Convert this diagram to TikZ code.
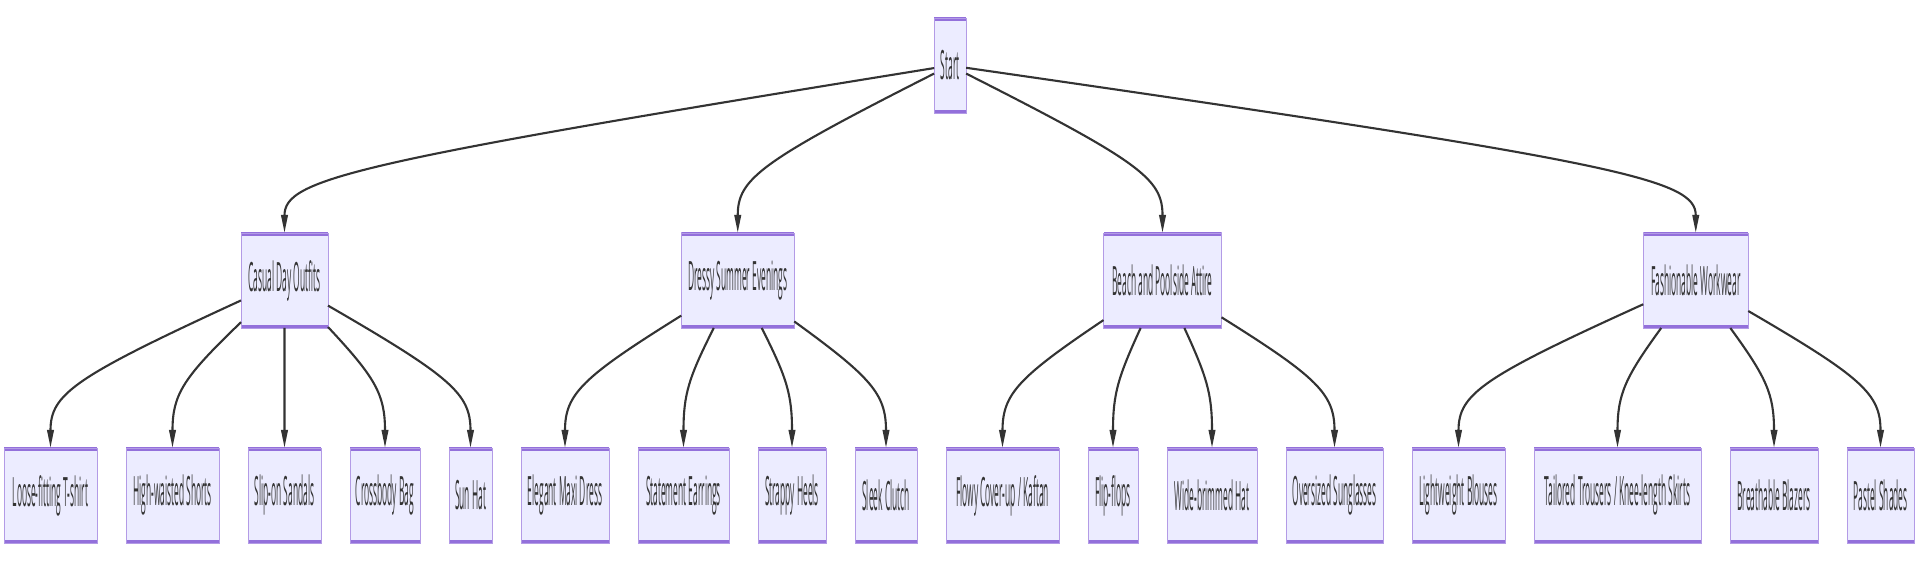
\documentclass[tikz,border=0pt]{standalone}
\usepackage{fontspec}
\newfontfamily\boxfont[FakeStretch=0.208]{Open Sans}
\usetikzlibrary{arrows.meta,positioning,calc}
\definecolor{boxfill}{HTML}{ECECFF}
\definecolor{boxline}{HTML}{9370DB}
\definecolor{linkgray}{HTML}{333333}

\begin{document}
\begin{tikzpicture}[
node distance=2.4cm and 0.58cm,
box/.style={rectangle,draw=boxline!70,line width=0.5pt,fill=boxfill,minimum height=1.9cm,inner sep=0pt,outer sep=0pt,
  text=linkgray,font=\boxfont\fontsize{23}{27}\selectfont,
  path picture={\draw[boxline,line width=3.4pt] (path picture bounding box.north west) -- (path picture bounding box.north east)
    (path picture bounding box.south west) -- (path picture bounding box.south east);}},
arr/.style={-{Triangle[length=0.36cm,width=0.13cm]},line width=1.2pt,draw=linkgray},
flow/.style={to path={.. controls ($(\tikztostart)!0.9!(\tikztotarget.north)+(0,1.08)$) and ($(\tikztotarget.north)+(0,1.08)$) .. (\tikztotarget.north)}}
]
\useasboundingbox (0,0) rectangle (38.4,11.24);

% bottom row
\node[box,minimum width=1.86cm,anchor=west] (loose) at (0.08,1.33) {Loose-fitting T-shirt};
\node[box,minimum width=1.86cm,right=of loose] (high) {High-waisted Shorts};
\node[box,minimum width=1.46cm,right=of high] (slip) {Slip-on Sandals};
\node[box,minimum width=1.40cm,right=of slip] (crossbody) {Crossbody Bag};
\node[box,minimum width=0.86cm,right=of crossbody] (sunhat) {Sun Hat};
\node[box,minimum width=1.76cm,right=of sunhat] (maxi) {Elegant Maxi Dress};
\node[box,minimum width=1.82cm,right=of maxi] (earrings) {Statement Earrings};
\node[box,minimum width=1.36cm,right=of earrings] (heels) {Strappy Heels};
\node[box,minimum width=1.24cm,right=of heels] (clutch) {Sleek Clutch};
\node[box,minimum width=2.26cm,right=of clutch] (kaftan) {Flowy Cover-up / Kaftan};
\node[box,minimum width=1.00cm,right=of kaftan] (flipflops) {Flip-flops};
\node[box,minimum width=1.80cm,right=of flipflops] (widehat) {Wide-brimmed Hat};
\node[box,minimum width=1.94cm,right=of widehat] (sunglasses) {Oversized Sunglasses};
\node[box,minimum width=1.86cm,right=of sunglasses] (blouses) {Lightweight Blouses};
\node[box,minimum width=3.34cm,right=of blouses] (trousers) {Tailored Trousers / Knee-length Skirts};
\node[box,minimum width=1.76cm,right=of trousers] (blazers) {Breathable Blazers};
\node[box,minimum width=1.34cm,right=of blazers] (pastel) {Pastel Shades};

% categories
\coordinate (dressymid) at ($(earrings.north)!0.5!(heels.north)$);
\coordinate (beachmid) at ($(flipflops.north)!0.5!(widehat.north)$);
\coordinate (workmid) at ($(trousers.north)!0.5!(blazers.north)$);
\node[box,minimum width=1.74cm,above=of slip] (casual) {Casual Day Outfits};
\node[box,minimum width=2.26cm,above=of dressymid] (dressy) {Dressy Summer Evenings};
\node[box,minimum width=2.36cm,above=of beachmid] (beach) {Beach and Poolside Attire};
\node[box,minimum width=2.10cm,above=of workmid] (workwear) {Fashionable Workwear};

\coordinate (startmid) at ($(dressy.north)!0.5!(beach.north)$);
\node[box,minimum width=0.64cm,above=of startmid] (start) {Start};

\draw[arr] (start) to[flow] (casual);
\draw[arr] (start) to[flow] (dressy);
\draw[arr] (start) to[flow] (beach);
\draw[arr] (start) to[flow] (workwear);

\draw[arr] (casual) to[flow] (loose);
\draw[arr] (casual) to[flow] (high);
\draw[arr] (casual) to[flow] (slip);
\draw[arr] (casual) to[flow] (crossbody);
\draw[arr] (casual) to[flow] (sunhat);

\draw[arr] (dressy) to[flow] (maxi);
\draw[arr] (dressy) to[flow] (earrings);
\draw[arr] (dressy) to[flow] (heels);
\draw[arr] (dressy) to[flow] (clutch);

\draw[arr] (beach) to[flow] (kaftan);
\draw[arr] (beach) to[flow] (flipflops);
\draw[arr] (beach) to[flow] (widehat);
\draw[arr] (beach) to[flow] (sunglasses);

\draw[arr] (workwear) to[flow] (blouses);
\draw[arr] (workwear) to[flow] (trousers);
\draw[arr] (workwear) to[flow] (blazers);
\draw[arr] (workwear) to[flow] (pastel);
\end{tikzpicture}
\end{document}
